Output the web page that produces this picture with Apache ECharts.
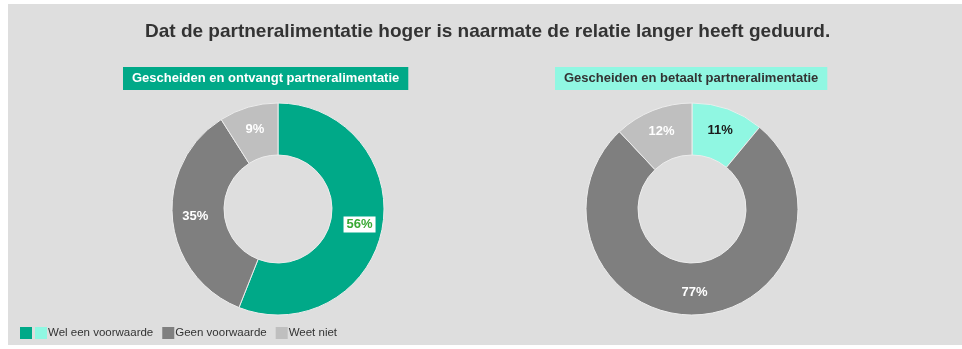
<!DOCTYPE html>
<html>
<head>
<meta charset="utf-8">
<script src="https://cdn.jsdelivr.net/npm/echarts@6/dist/echarts.min.js"></script>
<style>
  html, body { margin: 0; padding: 0; background: #ffffff; }
  #chart { width: 962px; height: 349px; }
</style>
</head>
<body>
<div id="chart"></div>
<script>
// Answer categories shared by both rings
const categories = ['Wel een voorwaarde', 'Geen voorwaarde', 'Weet niet'];
// Share of respondents (%) per group
const ontvangtValues = [56, 35, 9];
const betaaltValues = [11, 77, 12];

const mainTitle = 'Dat de partneralimentatie hoger is naarmate de relatie langer heeft geduurd.';
const leftTitle = 'Gescheiden en ontvangt partneralimentatie';
const rightTitle = 'Gescheiden en betaalt partneralimentatie';

const GREEN = '#00a988';
const MINT = '#90f7e2';
const DARK = '#7f7f7f';
const LIGHT = '#bfbfbf';
const PANEL = '#dedede';
const FONT = '"Liberation Sans", Arial, sans-serif';

const baseLabel = {
  show: true,
  position: 'inside',
  formatter: '{c}%',
  color: '#ffffff',
  fontFamily: FONT,
  fontWeight: 'bold',
  fontSize: 13
};

function ringData(values, firstColor, firstLabel) {
  const colors = [firstColor, DARK, LIGHT];
  return categories.map((name, i) => {
    const item = { name, value: values[i], itemStyle: { color: colors[i] } };
    if (i === 0) item.label = firstLabel;
    return item;
  });
}

const legendIcon = { borderWidth: 0 };

const chart = echarts.init(document.getElementById('chart'));
chart.setOption({
  animation: false,
  backgroundColor: '#ffffff',
  graphic: [{
    type: 'rect',
    z: -10,
    silent: true,
    shape: { x: 8, y: 4, width: 954, height: 341 },
    style: { fill: PANEL }
  }],
  title: [
    {
      text: mainTitle,
      left: 145,
      top: 22,
      padding: 0,
      textStyle: { fontFamily: FONT, fontSize: 19, fontWeight: 'bold', color: '#333333' }
    },
    {
      text: leftTitle,
      left: 123,
      top: 67,
      padding: [5, 9, 5, 9],
      backgroundColor: GREEN,
      textStyle: { fontFamily: FONT, fontSize: 13, fontWeight: 'bold', color: '#ffffff' }
    },
    {
      text: rightTitle,
      left: 555,
      top: 67,
      padding: [5, 9, 5, 9],
      backgroundColor: MINT,
      textStyle: { fontFamily: FONT, fontSize: 13, fontWeight: 'bold', color: '#333333' }
    }
  ],
  legend: [
    {
      left: 20,
      top: 327,
      padding: 0,
      itemWidth: 12,
      itemHeight: 12,
      icon: 'rect',
      itemStyle: legendIcon,
      formatter: () => '',
      selectedMode: false,
      data: [{ name: categories[0], itemStyle: { color: GREEN } }]
    },
    {
      left: 35,
      top: 327,
      padding: 0,
      itemWidth: 12,
      itemHeight: 12,
      itemGap: 9,
      icon: 'rect',
      itemStyle: legendIcon,
      selectedMode: false,
      textStyle: { fontFamily: FONT, fontSize: 11.5, color: '#333333', padding: [0, 0, 0, -4] },
      data: [
        { name: categories[0], itemStyle: { color: MINT, borderWidth: 0 } },
        { name: categories[1], itemStyle: { color: DARK, borderWidth: 0 } },
        { name: categories[2], itemStyle: { color: LIGHT, borderWidth: 0 } }
      ]
    }
  ],
  series: [
    {
      type: 'pie',
      center: [278, 209],
      radius: [54, 106],
      startAngle: 90,
      clockwise: true,
      itemStyle: { borderColor: '#ececec', borderWidth: 1 },
      label: baseLabel,
      labelLine: { show: false },
      emphasis: { disabled: true },
      data: ringData(ontvangtValues, GREEN, {
        color: '#3aa935',
        backgroundColor: '#ffffff',
        padding: [2, 3, 1, 3]
      })
    },
    {
      type: 'pie',
      center: [692, 209],
      radius: [54, 106],
      startAngle: 90,
      clockwise: true,
      itemStyle: { borderColor: '#ececec', borderWidth: 1 },
      label: baseLabel,
      labelLine: { show: false },
      emphasis: { disabled: true },
      data: ringData(betaaltValues, MINT, { color: '#1a1a1a' })
    }
  ]
});
</script>
</body>
</html>
